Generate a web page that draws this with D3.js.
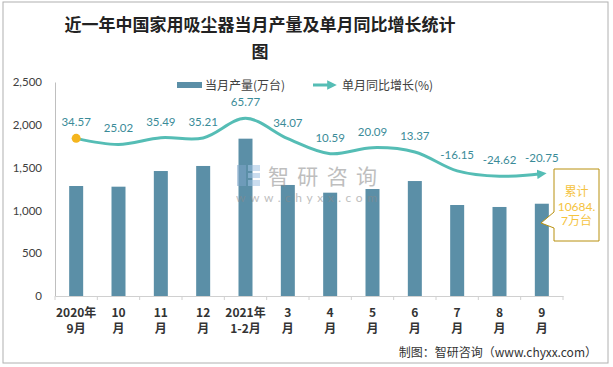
<!DOCTYPE html>
<html><head><meta charset="utf-8">
<script src="https://cdn.jsdelivr.net/npm/d3@7"></script>
<style>body{margin:0;background:#fff;} svg{display:block;}</style>
</head><body>
<svg id="c" width="613" height="367"></svg>
<script>
const categories = ["2020年9月","10月","11月","12月","2021年1-2月","3月","4月","5月","6月","7月","8月","9月"];
const tickLine1 = ["2020年","10","11","12","2021年","3","4","5","6","7","8","9"];
const tickLine2 = ["9月","月","月","月","1-2月","月","月","月","月","月","月","月"];
const production = [1285,1277,1460,1519,1838,1297,1207,1250,1343,1063,1040,1078];
const growth = [34.57,25.02,35.49,35.21,65.77,34.07,10.59,20.09,13.37,-16.15,-24.62,-20.75];
const yTicks = [0,500,1000,1500,2000,2500];
const titleLines = ["近一年中国家用吸尘器当月产量及单月同比增长统计","图"];
const seriesNames = ["当月产量(万台)","单月同比增长(%)"];
const calloutLines = ["累计","10684.","7万台"];
const sourceText = "制图：智研咨询（www.chyxx.com）";

const svg = d3.select("#c");
const barColor = "#5B8FA7", lineColor = "#55BDB5", labelColor = "#3A8B98", txt = "#404040";
const sans = "Lato, 'Noto Sans CJK SC', sans-serif";
const cjk = "'Noto Sans CJK SC', sans-serif";

// frame
svg.append("rect").attr("x",3).attr("y",2).attr("width",605).attr("height",361)
  .attr("fill","#fff").attr("stroke","#b0b0b0").attr("stroke-width",1);

// title
svg.append("g").selectAll("text").data(titleLines).join("text")
  .attr("x",260).attr("y",(d,i)=>31+i*27).attr("text-anchor","middle")
  .attr("font-family",cjk).attr("font-weight","bold").attr("font-size",17)
  .attr("fill","#222").text(d=>d);

const x = d3.scaleBand().domain(categories).range([55,563]).padding(0);
const y = d3.scaleLinear().domain([0,2500]).range([296,82]);
const y2 = d3.scaleLinear().domain([-211.4,122.5]).range([296,82]);

// y axis
const yAxis = svg.append("g").attr("transform","translate(55,0)")
  .call(d3.axisLeft(y).tickValues(yTicks).tickFormat(d3.format(",")).tickSize(0).tickPadding(13));
yAxis.select(".domain").attr("stroke","#bfbfbf");
yAxis.selectAll("text").attr("font-family",sans).attr("font-size",11.5).attr("fill",txt);

// x axis
const xAxis = svg.append("g").attr("transform","translate(0,296)")
  .call(d3.axisBottom(x).tickSize(0).tickFormat(""));
xAxis.select(".domain").attr("stroke","#d0d0d0");
svg.append("g").selectAll("line").data(d3.range(categories.length+1)).join("line")
  .attr("x1",i=>55+i*x.step()).attr("x2",i=>55+i*x.step())
  .attr("y1",296).attr("y2",300).attr("stroke","#d0d0d0");
const xl = svg.append("g").selectAll("text").data(categories).join("text")
  .attr("x",d=>x(d)+x.bandwidth()/2).attr("text-anchor","middle")
  .attr("font-family",cjk).attr("font-weight","bold").attr("font-size",12).attr("fill","#333");
xl.append("tspan").attr("x",d=>x(d)+x.bandwidth()/2).attr("y",317).text((d,i)=>tickLine1[i]);
xl.append("tspan").attr("x",d=>x(d)+x.bandwidth()/2).attr("y",333).text((d,i)=>tickLine2[i]);

// bars
const bw = 14;
svg.append("g").selectAll("rect").data(production).join("rect")
  .attr("x",(d,i)=>x(categories[i])+x.bandwidth()/2-bw/2).attr("width",bw)
  .attr("y",d=>y(d)).attr("height",d=>296-y(d)).attr("fill",barColor);

// watermark
const wm = svg.append("g").attr("opacity",0.55);
wm.append("rect").attr("x",237).attr("y",165).attr("width",9).attr("height",21).attr("fill","#7fa6c9");
wm.append("rect").attr("x",248).attr("y",165).attr("width",12).attr("height",6).attr("fill","#9fc3e3");
wm.append("rect").attr("x",248).attr("y",173).attr("width",12).attr("height",5).attr("fill","#9fc3e3");
wm.append("rect").attr("x",248).attr("y",180).attr("width",12).attr("height",6).attr("fill","#9fc3e3");
wm.append("text").attr("x",268).attr("y",184).attr("font-family",cjk).attr("font-size",21)
  .attr("fill","#8a8a8a").attr("textLength",109).attr("lengthAdjust","spacing").text("智研咨询");
wm.append("text").attr("x",236).attr("y",202).attr("font-family",sans).attr("font-size",12)
  .attr("fill","#8a8a8a").attr("textLength",141).attr("lengthAdjust","spacing").text("www.chyxx.com");

// line
const defs = svg.append("defs");
defs.append("marker").attr("id","arr").attr("viewBox","0 0 10 10").attr("refX",5).attr("refY",5)
  .attr("markerWidth",3.2).attr("markerHeight",3.2).attr("orient","auto")
  .append("path").attr("d","M0,0L10,5L0,10z").attr("fill",lineColor);
const px = i=>x(categories[i])+x.bandwidth()/2;
const line = d3.line().x((d,i)=>px(i)).y(d=>y2(d)).curve(d3.curveCatmullRom.alpha(0.5));
svg.append("path").datum(growth).attr("d",line).attr("fill","none")
  .attr("stroke",lineColor).attr("stroke-width",3).attr("marker-end","url(#arr)");
svg.append("circle").attr("cx",px(0)).attr("cy",y2(growth[0])).attr("r",4.5).attr("fill","#F4B51E");
svg.append("g").selectAll("text").data(growth).join("text")
  .attr("x",(d,i)=>px(i)).attr("y",d=>y2(d)-12).attr("text-anchor","middle")
  .attr("font-family",sans).attr("font-size",11.5).attr("fill",labelColor)
  .text(d=>d.toFixed(2));

// legend
svg.append("rect").attr("x",177).attr("y",82).attr("width",25).attr("height",6).attr("fill",barColor);
svg.append("text").attr("x",205).attr("y",89.5).attr("font-family",cjk).attr("font-size",12)
  .attr("fill",txt).text(seriesNames[0]);
svg.append("line").attr("x1",313).attr("x2",332).attr("y1",85).attr("y2",85)
  .attr("stroke",lineColor).attr("stroke-width",3).attr("marker-end","url(#arr)");
svg.append("text").attr("x",342).attr("y",89.5).attr("font-family",cjk).attr("font-size",12)
  .attr("fill",txt).text(seriesNames[1]);

// callout
svg.append("path").attr("d","M554,169H599V241H554V228L541,223L554,212Z")
  .attr("fill","#fff").attr("stroke","#B8900F").attr("stroke-width",1);
svg.append("g").selectAll("text").data(calloutLines).join("text")
  .attr("x",576.5).attr("y",(d,i)=>196+i*14.5).attr("text-anchor","middle")
  .attr("font-family",sans).attr("font-size",12).attr("fill","#F5C340").text(d=>d);

// source
svg.append("text").attr("x",597).attr("y",357).attr("text-anchor","end")
  .attr("font-family",cjk).attr("font-size",12).attr("fill","#333").text(sourceText);
</script>
</body></html>
